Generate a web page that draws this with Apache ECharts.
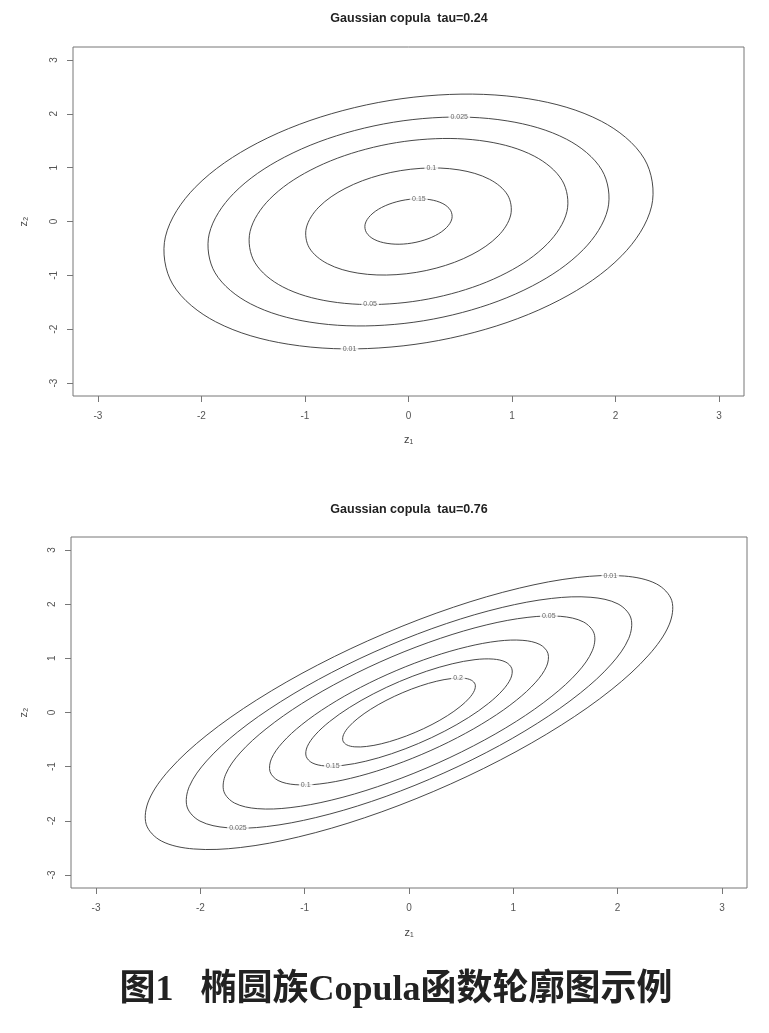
<!DOCTYPE html>
<html>
<head>
<meta charset="utf-8">
<script src="https://cdn.jsdelivr.net/npm/echarts@6/dist/echarts.min.js"></script>
<style>
html,body{margin:0;padding:0;background:#fff;}
#chart{width:769px;height:1033px;}
</style>
</head>
<body>
<div id="chart"></div>
<script>
// ---- data ----
const tickValues = [-3, -2, -1, 0, 1, 2, 3];
const axisMin = -3.24, axisMax = 3.24;

const title1 = 'Gaussian copula  tau=0.24';
const title2 = 'Gaussian copula  tau=0.76';
const caption = '图1   椭圆族Copula函数轮廓图示例';

// panel 1 contour lines (z1, z2)
const p1_c001 = [[1.862,1.862],[1.162,2.278],[0.286,2.348],[-0.634,2.060],[-1.458,1.458],[-2.060,0.634],[-2.348,-0.286],[-2.278,-1.162],[-1.862,-1.862],[-1.162,-2.278],[-0.286,-2.348],[0.634,-2.060],[1.458,-1.458],[2.060,-0.634],[2.348,0.286],[2.278,1.162]];
const p1_c0025 = [[1.527,1.527],[0.953,1.868],[0.234,1.925],[-0.520,1.689],[-1.196,1.196],[-1.689,0.520],[-1.925,-0.234],[-1.868,-0.953],[-1.527,-1.527],[-0.953,-1.868],[-0.234,-1.925],[0.520,-1.689],[1.196,-1.196],[1.689,-0.520],[1.925,0.234],[1.868,0.953]];
const p1_c005 = [[1.214,1.214],[0.758,1.485],[0.186,1.530],[-0.413,1.342],[-0.950,0.950],[-1.342,0.413],[-1.530,-0.186],[-1.485,-0.758],[-1.214,-1.214],[-0.758,-1.485],[-0.186,-1.530],[0.413,-1.342],[0.950,-0.950],[1.342,-0.413],[1.530,0.186],[1.485,0.758]];
const p1_c01 = [[0.783,0.783],[0.489,0.958],[0.120,0.987],[-0.267,0.866],[-0.613,0.613],[-0.866,0.267],[-0.987,-0.120],[-0.958,-0.489],[-0.783,-0.783],[-0.489,-0.958],[-0.120,-0.987],[0.267,-0.866],[0.613,-0.613],[0.866,-0.267],[0.987,0.120],[0.958,0.489]];
const p1_c015 = [[0.332,0.332],[0.207,0.406],[0.051,0.419],[-0.113,0.367],[-0.260,0.260],[-0.367,0.113],[-0.419,-0.051],[-0.406,-0.207],[-0.332,-0.332],[-0.207,-0.406],[-0.051,-0.419],[0.113,-0.367],[0.260,-0.260],[0.367,-0.113],[0.419,0.051],[0.406,0.207]];
const p1_labels = [[0.49,1.94,'0.025'],[0.22,0.99,'0.1'],[0.10,0.42,'0.15'],[-0.37,-1.54,'0.05'],[-0.57,-2.37,'0.01']];

// panel 2 contour lines (z1, z2)
const p2_c001 = [[2.373,2.373],[2.065,2.519],[1.617,2.493],[1.059,2.297],[0.428,1.945],[-0.232,1.460],[-0.876,0.876],[-1.460,0.232],[-1.945,-0.428],[-2.297,-1.059],[-2.493,-1.617],[-2.519,-2.065],[-2.373,-2.373],[-2.065,-2.519],[-1.617,-2.493],[-1.059,-2.297],[-0.428,-1.945],[0.232,-1.460],[0.876,-0.876],[1.460,-0.232],[1.945,0.428],[2.297,1.059],[2.493,1.617],[2.519,2.065]];
const p2_c0025 = [[2.004,2.004],[1.744,2.127],[1.366,2.106],[0.894,1.940],[0.361,1.643],[-0.196,1.233],[-0.740,0.740],[-1.233,0.196],[-1.643,-0.361],[-1.940,-0.894],[-2.106,-1.366],[-2.127,-1.744],[-2.004,-2.004],[-1.744,-2.127],[-1.366,-2.106],[-0.894,-1.940],[-0.361,-1.643],[0.196,-1.233],[0.740,-0.740],[1.233,-0.196],[1.643,0.361],[1.940,0.894],[2.106,1.366],[2.127,1.744]];
const p2_c005 = [[1.672,1.672],[1.455,1.775],[1.140,1.757],[0.746,1.619],[0.302,1.370],[-0.163,1.029],[-0.617,0.617],[-1.029,0.163],[-1.370,-0.302],[-1.619,-0.746],[-1.757,-1.140],[-1.775,-1.455],[-1.672,-1.672],[-1.455,-1.775],[-1.140,-1.757],[-0.746,-1.619],[-0.302,-1.370],[0.163,-1.029],[0.617,-0.617],[1.029,-0.163],[1.370,0.302],[1.619,0.746],[1.757,1.140],[1.775,1.455]];
const p2_c01 = [[1.255,1.255],[1.092,1.332],[0.855,1.319],[0.560,1.215],[0.226,1.029],[-0.123,0.773],[-0.464,0.464],[-0.773,0.123],[-1.029,-0.226],[-1.215,-0.560],[-1.319,-0.855],[-1.332,-1.092],[-1.255,-1.255],[-1.092,-1.332],[-0.855,-1.319],[-0.560,-1.215],[-0.226,-1.029],[0.123,-0.773],[0.464,-0.464],[0.773,-0.123],[1.029,0.226],[1.215,0.560],[1.319,0.855],[1.332,1.092]];
const p2_c015 = [[0.929,0.929],[0.808,0.986],[0.633,0.976],[0.414,0.899],[0.167,0.761],[-0.091,0.572],[-0.343,0.343],[-0.572,0.091],[-0.761,-0.167],[-0.899,-0.414],[-0.976,-0.633],[-0.986,-0.808],[-0.929,-0.929],[-0.808,-0.986],[-0.633,-0.976],[-0.414,-0.899],[-0.167,-0.761],[0.091,-0.572],[0.343,-0.343],[0.572,-0.091],[0.761,0.167],[0.899,0.414],[0.976,0.633],[0.986,0.808]];
const p2_c02 = [[0.597,0.597],[0.520,0.634],[0.407,0.627],[0.266,0.578],[0.108,0.490],[-0.059,0.368],[-0.221,0.221],[-0.368,0.059],[-0.490,-0.108],[-0.578,-0.266],[-0.627,-0.407],[-0.634,-0.520],[-0.597,-0.597],[-0.520,-0.634],[-0.407,-0.627],[-0.266,-0.578],[-0.108,-0.490],[0.059,-0.368],[0.221,-0.221],[0.368,-0.059],[0.490,0.108],[0.578,0.266],[0.627,0.407],[0.634,0.520]];
const p2_labels = [[1.93,2.52,'0.01'],[1.34,1.78,'0.05'],[0.47,0.63,'0.2'],[-0.73,-0.99,'0.15'],[-0.99,-1.34,'0.1'],[-1.64,-2.13,'0.025']];

// ---- chart ----
const chart = echarts.init(document.getElementById('chart'), null, {renderer: 'canvas'});
const axisColor = '#777';
const lineColor = '#333';
const latin = "'Liberation Sans', Arial, sans-serif";

function xAxisDef(gridIndex, gap) {
  return {
    gridIndex: gridIndex, type: 'value', min: axisMin, max: axisMax, position: 'bottom',
    name: 'z\u2081', nameLocation: 'middle', nameGap: gap,
    nameTextStyle: {fontSize: 11, color: '#444', fontFamily: latin},
    axisLine: {show: false, onZero: false},
    axisTick: {show: true, length: 6, inside: false, customValues: tickValues, lineStyle: {color: axisColor, width: 1}},
    axisLabel: {show: true, customValues: tickValues, margin: 15, fontSize: 10, color: '#555', fontFamily: latin},
    splitLine: {show: false}
  };
}
function yAxisDef(gridIndex, gap) {
  return {
    gridIndex: gridIndex, type: 'value', min: axisMin, max: axisMax, position: 'left',
    name: 'z\u2082', nameLocation: 'middle', nameGap: gap, nameRotate: 90,
    nameTextStyle: {fontSize: 11, color: '#444', fontFamily: latin},
    axisLine: {show: false, onZero: false},
    axisTick: {show: true, length: 6, inside: false, customValues: tickValues, lineStyle: {color: axisColor, width: 1}},
    axisLabel: {show: true, customValues: tickValues, rotate: 90, margin: 14, fontSize: 10, color: '#555', fontFamily: latin},
    splitLine: {show: false}
  };
}
function contour(pts, idx) {
  return {
    type: 'custom', xAxisIndex: idx, yAxisIndex: idx, data: [[0, 0]], silent: true, z: 2,
    renderItem: function (params, api) {
      return {
        type: 'polygon',
        shape: {points: pts.map(function (p) { return api.coord(p); }), smooth: 0.34},
        style: {fill: 'none', stroke: lineColor, lineWidth: 0.9}
      };
    }
  };
}
function labelSeries(labels, idx) {
  return {
    type: 'scatter', xAxisIndex: idx, yAxisIndex: idx, silent: true, z: 5,
    symbol: 'circle', symbolSize: 1, itemStyle: {color: 'rgba(0,0,0,0)'},
    data: labels.map(function (l) { return {value: [l[0], l[1]], name: l[2]}; }),
    label: {show: true, position: 'inside', formatter: function (p) { return p.name; },
      fontSize: 7, color: '#444', backgroundColor: '#fff', padding: [1, 2], fontFamily: latin},
    emphasis: {disabled: true}
  };
}

const option = {
  backgroundColor: '#fff',
  animation: false,
  title: [
    {text: title1, left: 409, top: 12, textAlign: 'center', padding: 0,
      textStyle: {fontSize: 12.5, fontWeight: 'bold', color: '#222', fontFamily: latin}},
    {text: title2, left: 409, top: 503, textAlign: 'center', padding: 0,
      textStyle: {fontSize: 12.5, fontWeight: 'bold', color: '#222', fontFamily: latin}},
    {text: caption, left: 396, top: 973, textAlign: 'center', padding: 0,
      textStyle: {fontSize: 36, fontWeight: 'bold', color: '#222', fontFamily: "'Liberation Serif', 'Noto Sans CJK SC', serif"}}
  ],
  grid: [
    {left: 73, top: 47, width: 671, height: 349, show: true, borderColor: axisColor, borderWidth: 1, backgroundColor: 'transparent'},
    {left: 71, top: 537, width: 676, height: 351, show: true, borderColor: axisColor, borderWidth: 1, backgroundColor: 'transparent'}
  ],
  xAxis: [xAxisDef(0, 38), xAxisDef(1, 39)],
  yAxis: [yAxisDef(0, 44), yAxisDef(1, 42)],
  series: [
    contour(p1_c001, 0), contour(p1_c0025, 0), contour(p1_c005, 0), contour(p1_c01, 0), contour(p1_c015, 0),
    labelSeries(p1_labels, 0),
    contour(p2_c001, 1), contour(p2_c0025, 1), contour(p2_c005, 1), contour(p2_c01, 1), contour(p2_c015, 1), contour(p2_c02, 1),
    labelSeries(p2_labels, 1)
  ]
};
chart.setOption(option);
</script>
</body>
</html>
